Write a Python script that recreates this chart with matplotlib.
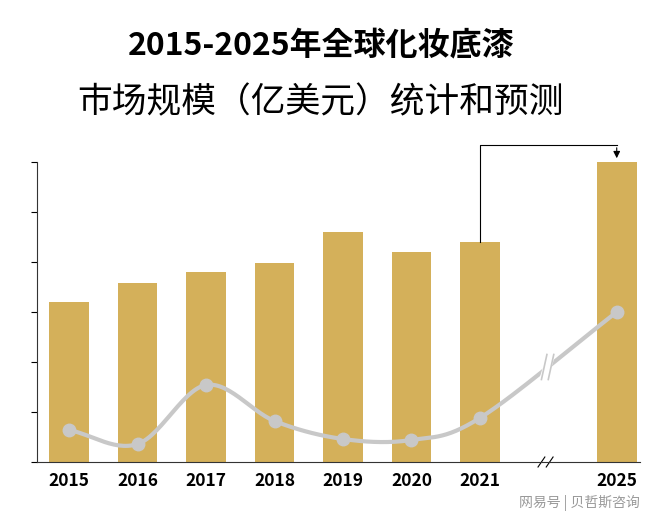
import numpy as np
import matplotlib
matplotlib.use('Agg')
import matplotlib.pyplot as plt

plt.rcParams['font.family'] = ['Noto Sans CJK JP', 'Noto Sans CJK SC', 'Noto Sans CJK TC', 'DejaVu Sans']

years = ['2015', '2016', '2017', '2018', '2019', '2020', '2021', '2025']
positions = [0, 1, 2, 3, 4, 5, 6, 8]
market = [32, 35.8, 38, 39.8, 46, 42, 44, 60]
growth = [6.4, 3.6, 15.4, 8.2, 4.6, 4.4, 8.8, 30]

def smooth(xs, ys, n=30):
    # catmull-rom curve through the points, for drawing only
    xs = np.asarray(xs, float); ys = np.asarray(ys, float)
    px = np.concatenate([[2*xs[0]-xs[1]], xs, [2*xs[-1]-xs[-2]]])
    py = np.concatenate([[2*ys[0]-ys[1]], ys, [2*ys[-1]-ys[-2]]])
    ox, oy = [], []
    for i in range(1, len(px)-2):
        t = np.linspace(0, 1, n)
        for p, o in ((px, ox), (py, oy)):
            p0, p1, p2, p3 = p[i-1], p[i], p[i+1], p[i+2]
            o.extend(0.5*((2*p1) + (-p0+p2)*t + (2*p0-5*p1+4*p2-p3)*t**2 + (-p0+3*p1-3*p2+p3)*t**3))
    return np.array(ox), np.array(oy)

fig = plt.figure(figsize=(6.6, 5.23), dpi=100)
ax = fig.add_axes([37/660, 61/523, 603/660, 300/523])

ax.bar(positions, market, width=0.58, color='#D4B05A', zorder=2)
sx, sy = smooth(positions, growth)
ax.plot(sx, sy, color='#C8C8C8', lw=3, zorder=3)
ax.plot(positions, growth, 'o', color='#C8C8C8', ms=9, zorder=4)
# break marks on the line
ax.plot([6.93, 7.03], [16.5, 21], color='white', lw=6, zorder=5)
for dx in (0, 0.1):
    ax.plot([6.9+dx, 6.98+dx], [16.5, 21.5], color='#C8C8C8', lw=1.2, zorder=6)

# arrow from 2021 to 2025
ax.plot([6, 6, 8], [44, 63.4, 63.4], color='black', lw=0.8, clip_on=False)
ax.annotate('', xy=(8, 60.2), xytext=(8, 63.4),
            arrowprops=dict(arrowstyle='-|>', color='black', lw=0.8), annotation_clip=False)

ax.set_xlim(-0.47, 8.34)
ax.set_ylim(0, 60)
ax.set_yticks(np.arange(0, 61, 10))
ax.set_yticklabels([])
ax.tick_params(axis='y', length=4, direction='out')
ax.set_xticks(positions)
ax.set_xticklabels(years, fontsize=12.5, fontweight='bold')
ax.tick_params(axis='x', length=0, pad=7)
for s in ('top', 'right'):
    ax.spines[s].set_visible(False)
ax.spines['bottom'].set_color('#333333')
ax.spines['left'].set_color('#333333')
ax.plot([6.85, 6.95], [-1, 1], color='black', lw=0.8, clip_on=False)
ax.plot([6.97, 7.07], [-1, 1], color='black', lw=0.8, clip_on=False)

fig.text(0.486, 1-45/523, '2015-2025年全球化妆底漆', ha='center', va='center', fontsize=23, fontweight='bold')
fig.text(0.486, 1-103/523, '市场规模（亿美元）统计和预测', ha='center', va='center', fontsize=25)
fig.text(0.97, 1-503/523, '网易号 | 贝哲斯咨询', ha='right', va='center', fontsize=10, color='#999999')

plt.savefig('out.png', dpi=100)
